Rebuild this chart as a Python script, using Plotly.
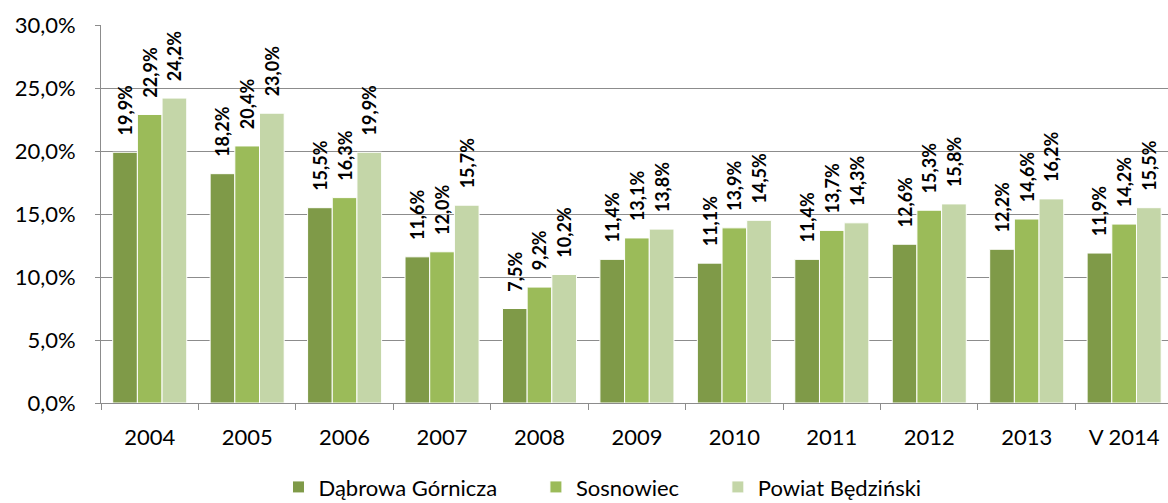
import plotly.graph_objects as go

categories = ["2004", "2005", "2006", "2007", "2008", "2009", "2010", "2011", "2012", "2013", "V 2014"]
dabrowa = [19.9, 18.2, 15.5, 11.6, 7.5, 11.4, 11.1, 11.4, 12.6, 12.2, 11.9]
sosnowiec = [22.9, 20.4, 16.3, 12.0, 9.2, 13.1, 13.9, 13.7, 15.3, 14.6, 14.2]
powiat = [24.2, 23.0, 19.9, 15.7, 10.2, 13.8, 14.5, 14.3, 15.8, 16.2, 15.5]
series_names = ["Dąbrowa Górnicza", "Sosnowiec", "Powiat Będziński"]
colors = ["#7F9A48", "#9BBB59", "#C4D6A8"]

FONT = "Lato, 'Open Sans', sans-serif"
PAD = "\u00a0" * 6

fig = go.Figure()
for i, (name, vals, col) in enumerate(zip(series_names, [dabrowa, sosnowiec, powiat], colors)):
    fig.add_trace(go.Bar(
        x=categories,
        y=[v / 100 for v in vals],
        name=name + (PAD if i < len(series_names) - 1 else ""),
        marker=dict(color=col, line=dict(color="white", width=1)),
        texttemplate="\u00a0\u00a0\u00a0<b>%{y:.1%}</b>",
        textposition="outside",
        textangle=-90,
        textfont=dict(size=18, color="black", family=FONT),
        constraintext="none",
        cliponaxis=False,
    ))

fig.update_layout(
    width=1168, height=503,
    margin=dict(l=101, r=0, t=25, b=100, autoexpand=False),
    paper_bgcolor="white", plot_bgcolor="white",
    barmode="group", bargap=0.24, bargroupgap=0,
    separators=", ",
    font=dict(family=FONT, size=22, color="black"),
    showlegend=True,
    legend=dict(orientation="h", x=0.47, xanchor="center", y=-0.167, yanchor="top",
                font=dict(size=22), itemwidth=30, traceorder="normal"),
    xaxis=dict(
        range=[-0.5, 10.45],
        showline=True, linecolor="#8C8C8C", linewidth=1,
        ticks="outside", tickson="boundaries", ticklen=6, tickcolor="#8C8C8C",
        ticklabelstandoff=15,
        tickfont=dict(size=22),
    ),
    yaxis=dict(
        range=[0, 0.30], dtick=0.05, tickformat=".1%",
        showgrid=True, gridcolor="#8C8C8C", gridwidth=1,
        showline=True, linecolor="#8C8C8C", linewidth=1,
        ticks="outside", ticklen=5, tickcolor="#8C8C8C",
        ticklabelstandoff=15,
        tickfont=dict(size=22),
        zeroline=False,
    ),
)

fig.write_html("out.html", config={"displayModeBar": False},
               post_script="document.body.style.margin='0';document.body.style.overflow='hidden';")
